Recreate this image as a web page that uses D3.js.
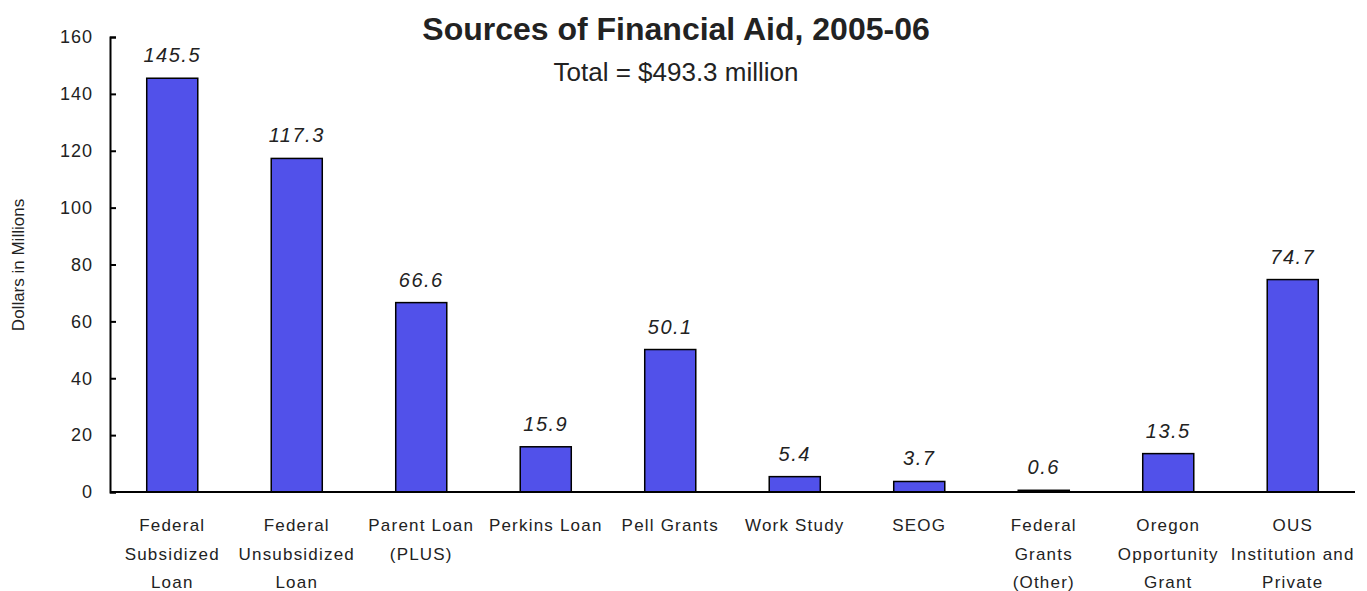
<!DOCTYPE html>
<html>
<head>
<meta charset="utf-8">
<script src="https://cdn.jsdelivr.net/npm/d3@7"></script>
<style>
body{margin:0;background:#fff;}
text{font-family:"Liberation Sans Narrow","Arial Narrow","Liberation Sans",sans-serif;fill:#222;}
</style>
</head>
<body>
<svg></svg>
<script>
var categories = [
	["Federal","Subsidized","Loan"],
	["Federal","Unsubsidized","Loan"],
	["Parent Loan","(PLUS)"],
	["Perkins Loan"],
	["Pell Grants"],
	["Work Study"],
	["SEOG"],
	["Federal","Grants","(Other)"],
	["Oregon","Opportunity","Grant"],
	["OUS","Institution and","Private"]
];
var values = [145.5, 117.3, 66.6, 15.9, 50.1, 5.4, 3.7, 0.6, 13.5, 74.7];
var yTicks = [0, 20, 40, 60, 80, 100, 120, 140, 160];
var title = "Sources of Financial Aid, 2005-06";
var subtitle = "Total = $493.3 million";
var yTitle = "Dollars in Millions";

var width = 1367, height = 591;
var mLeft = 110, mRight = 1355, mTop = 37, mBottom = 492;

var svg = d3.select("svg").attr("width", width).attr("height", height);

var x = d3.scaleBand().domain(d3.range(values.length)).range([mLeft, mRight]).paddingInner(0.59).paddingOuter(0.295);
var y = d3.scaleLinear().domain([0,160]).range([mBottom, mTop]);

// bars
svg.selectAll(".bar").data(values)
.enter().append("rect")
.attr("class","bar")
.attr("x", function(d,i){ return x(i); })
.attr("y", function(d){ return y(d); })
.attr("width", x.bandwidth())
.attr("height", function(d){ return mBottom - y(d); })
.style("fill","#5151EA")
.style("stroke","#000")
.style("stroke-width",1.5);

// value labels
svg.selectAll(".val").data(values)
.enter().append("text")
.attr("class","val")
.attr("x", function(d,i){ return x(i) + x.bandwidth()/2; })
.attr("y", function(d){ return y(d) - 16; })
.attr("text-anchor","middle")
.style("font-size","20px")
.style("font-style","italic")
.style("letter-spacing","1.5px")
.text(function(d){ return d.toFixed(1); });

// y axis
var yAxis = d3.axisLeft(y).tickValues(yTicks).tickSizeInner(-6).tickSizeOuter(-6).tickPadding(17);
var ga = svg.append("g").attr("transform","translate("+mLeft+",0)").call(yAxis);
ga.select(".domain").attr("stroke","#000").attr("stroke-width",2);
ga.selectAll(".tick line").attr("stroke","#000").attr("stroke-width",2);
ga.selectAll(".tick text").style("font-size","18px").style("letter-spacing","1px")
.style("font-family","'Liberation Sans Narrow','Liberation Sans',sans-serif").attr("fill","#222");

// x axis line
svg.append("line").attr("x1",mLeft).attr("x2",mRight).attr("y1",mBottom).attr("y2",mBottom)
.attr("stroke","#000").attr("stroke-width",2);

// x labels
var xl = svg.selectAll(".xl").data(categories)
.enter().append("text")
.attr("class","xl")
.attr("text-anchor","middle")
.attr("x", function(d,i){ return x(i) + x.bandwidth()/2; })
.attr("y", 531)
.style("font-size","17px")
.style("letter-spacing","1.2px");
xl.selectAll("tspan").data(function(d){ return d; })
.enter().append("tspan")
.attr("x", function(){ return d3.select(this.parentNode).attr("x"); })
.attr("dy", function(d,i){ return i==0 ? 0 : 28.5; })
.text(function(d){ return d; });

// titles
svg.append("text").attr("x",676).attr("y",40).attr("text-anchor","middle")
.style("font-family","'Liberation Sans',Arial,sans-serif").style("font-weight","bold").style("font-size","32px")
.text(title);
svg.append("text").attr("x",676).attr("y",81).attr("text-anchor","middle")
.style("font-family","'Liberation Sans',Arial,sans-serif").style("font-size","26px")
.text(subtitle);

svg.append("text").attr("transform","translate(24,265) rotate(-90)").attr("text-anchor","middle")
.style("font-size","17px")
.text(yTitle);
</script>
</body>
</html>
